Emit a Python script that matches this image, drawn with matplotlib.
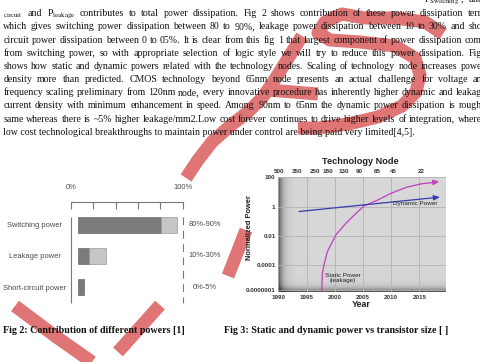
"""
    Page snippet: power dissipation text with
    Fig 2 (power contributions) and Fig 3 (static / dynamic power vs node).
"""
import numpy as np
import matplotlib.pyplot as plt

W, H = 481, 362
plt.rcParams["mathtext.fontset"] = "stix"

# ---- Fig 2 data (percent of the axis)
categories = ["Switching power", "Leakage power", "Short-circuit power"]
range_labels = ["80%-90%", "10%-30%", "0%-5%"]
bar_origin = 6.0
dark_end = [80.4, 16.4, 11.6]
light_end = [94.7, 31.3, None]
pct_ticks = [0, 20, 40, 60, 80, 100]
pct_labels = ["0%", "", "", "", "", "100%"]

# ---- Fig 3 data
years = [1990, 1995, 2000, 2005, 2010, 2015]
node_years = [1990.1, 1993.3, 1996.5, 1998.7, 2001.6, 2004.4, 2007.6, 2010.3, 2015.3]
node_labels = ["500", "350", "250", "180", "130", "90", "65", "45", "22"]
power_ticks = [100, 1, 0.01, 0.0001, 10**-5.7]
power_labels = ["100", "1", "0.01", "0.0001", "0.0000001"]
dyn_years = [1993.7, 2018.6]
dyn_power = [0.46, 4.4]
static_years = [1997.65, 1997.7, 1997.8, 1998.1, 1998.7, 2000.2, 2002.0, 2003.8,
                2005.2, 2007.4, 2010.0, 2012.7, 2015.3, 2018.5]
static_log = [-5.9, -5.7, -4.55, -3.97, -3.07, -1.93, -1.13, -0.45,
              0.05, 0.41, 0.91, 1.32, 1.55, 1.70]

# ---- body text (lines as they are cut by the page edge)
top_fragment = r"P$_{\mathrm{Switching}}$ ,  and"
body_lines = [
    [r"${}_{\mathrm{circuit}}$", "and", r"P$_{\mathrm{leakage}}$", "contributes", "to", "total", "power",
     "dissipation.", "Fig", "2", "shows", "contribution", "of", "these", "power", "dissipation", "terr"],
    "which gives switching power dissipation between 80 to 90%, leakage power dissipation between 10 to 30% and sho".split(),
    "circuit power dissipation between 0 to 05%. It is clear from this fig 1 that largest component of power dissipation com".split(),
    "from switching power, so with appropriate selection of logic style we will try to reduce this power dissipation. Fig".split(),
    "shows how static and dynamic powers related with the technology nodes. Scaling of technology node increases powe".split(),
    "density more than predicted. CMOS technology beyond 65nm node presents an actual challenge for voltage an".split(),
    "frequency scaling preliminary from 120nm node, every innovative procedure has inherently higher dynamic and leakag".split(),
    "current density with minimum enhancement in speed. Among 90nm to 65nm the dynamic power dissipation is rough".split(),
    "same whereas there is ~5% higher leakage/mm2.Low cost forever continues to drive higher levels of integration, where".split(),
]
last_line = "low cost technological breakthroughs to maintain power under control are being paid very limited[4,5]."

# red watermark strokes over the page (pixel coordinates)
watermark = [
    [(443, 34), (425, 22), (395, 18), (365, 18), (342, 14), (325, 22), (318, 33), (330, 40),
     (360, 42), (395, 46), (415, 58), (420, 75), (416, 92), (402, 106), (378, 117),
     (348, 124), (318, 128), (298, 128)],
    [(302, 36), (292, 52), (282, 68), (272, 84), (262, 98), (248, 112), (230, 126),
     (212, 142), (198, 160), (186, 178)],
    [(268, 90), (318, 94)],
    [(246, 230), (228, 276)],
    [(15, 306), (55, 336), (92, 362)],
    [(160, 305), (118, 352)],
]

serif = "Liberation Serif"
sans = "Liberation Sans"
body_size = 7.1
fig2_size = 5.4

fig = plt.figure(figsize=(W / 100, H / 100), dpi=100)
page = fig.add_axes([0, 0, 1, 1])
page.set_xlim(0, W)
page.set_ylim(H, 0)
page.axis("off")


def px_axes(x0, y0, x1, y1):
    return fig.add_axes([x0 / W, 1 - y1 / H, (x1 - x0) / W, (y1 - y0) / H])


for stroke in watermark:
    sx, sy = zip(*stroke)
    page.plot(sx, sy, color="#e07575", lw=9.4, solid_capstyle="butt",
              solid_joinstyle="round", zorder=0.5)

# justified body text
renderer = fig.canvas.get_renderer()
x_left, x_right = 3.3, 482
page.text(484, 2.5, top_fragment, fontsize=body_size, family=serif, color="#111111",
          ha="right", va="baseline")
for i, words in enumerate(body_lines):
    yb = 13.3 + 13.16 * i + 3
    arts = [page.text(x_left, yb, w, fontsize=body_size, family=serif,
                      color="#111111", va="baseline") for w in words]
    widths = [a.get_window_extent(renderer).width for a in arts]
    gap = (x_right - x_left - sum(widths)) / (len(words) - 1)
    x = x_left
    for a, w in zip(arts, widths):
        a.set_x(x)
        x += w + gap
page.text(x_left, 13.3 + 13.16 * len(body_lines) + 3, last_line, fontsize=body_size,
          family=serif, color="#111111", va="baseline")

# captions
page.text(3.3, 330.7, "Fig 2: Contribution of different powers [1]", fontsize=7.2,
          family=serif, weight="bold", va="center", color="#111111")
page.text(224, 330.7, "Fig 3: Static and dynamic power vs transistor size [ ]", fontsize=7.2,
          family=serif, weight="bold", va="center", color="#111111")

# ---------------- Fig 2 ----------------
gray_txt = "#4a4a4a"
ax = px_axes(71, 201.7, 182.7, 303.3)
ax.set_facecolor("none")
ypos = np.arange(len(categories))
ax.barh(ypos, np.array(dark_end) - bar_origin, left=bar_origin, height=0.51,
        color="#7b7b7b", edgecolor="#6a6a6a", lw=0.5)
lt = [i for i in ypos if light_end[i] is not None]
ax.barh(lt, [light_end[i] - dark_end[i] for i in lt], left=[dark_end[i] for i in lt],
        height=0.51, color="#c6c6c6", edgecolor="#9a9a9a", lw=0.5)
ax.set_xlim(0, 100)
ax.set_ylim(2.51, -0.73)
for s in ["left", "right", "bottom"]:
    ax.spines[s].set_visible(False)
ax.spines["top"].set_color("#777777")
ax.spines["top"].set_linewidth(0.8)
ax.xaxis.tick_top()
ax.set_xticks(pct_ticks, pct_labels, family=sans, fontsize=fig2_size, color=gray_txt)
ax.tick_params(axis="x", direction="in", length=5, width=0.8, color="#777777", pad=8)
ax.set_yticks(ypos, categories, family=sans, fontsize=fig2_size, color=gray_txt)
plt.setp(ax.get_yticklabels(), ha="center")
ax.tick_params(axis="y", length=0, pad=26)
ax.vlines(0, -0.25, 2.51, color="#777777", lw=0.8, clip_on=False)
ax.vlines(100, -0.25, 2.51, color="#777777", lw=0.8, linestyles=(0, (7, 5)), clip_on=False)
for y, lab in zip(ypos, range_labels):
    ax.text(119.5, y, lab, ha="center", va="center", family=sans, fontsize=fig2_size,
            color=gray_txt)

# ---------------- Fig 3 ----------------
box = (278.3, 176.7, 446, 292.3)
bg = px_axes(*box)
nx, ny = 168, 116
xx, yy = np.meshgrid(np.arange(nx), np.arange(ny)[::-1])
shade = 0.84 - 0.55 * np.exp(-xx / 4.0) - 0.5 * np.exp(-yy / 3.0)
shade = np.clip(shade, 0.18, 1)
bg.imshow(shade, cmap="gray", vmin=0, vmax=1, aspect="auto", extent=(0, 1, 0, 1))
bg.axis("off")

ax3 = px_axes(*box)
ax3.set_facecolor("none")
ax3.set_yscale("log")
ax3.set_xlim(1990, 2019.7)
ax3.set_ylim(10**-5.86, 10**2.04)
ax3.set_xticks(years, [str(v) for v in years])
ax3.set_yticks(power_ticks, power_labels)
ax3.yaxis.set_minor_locator(plt.NullLocator())
ax3.grid(True, color="#b3b3b3", lw=0.6)
ax3.set_axisbelow(True)
for s in ax3.spines.values():
    s.set_visible(False)
ax3.tick_params(length=0, labelsize=4.5, labelcolor="#333333", pad=2)
plt.setp(ax3.get_xticklabels() + ax3.get_yticklabels(), family=sans, weight="bold")
top = ax3.secondary_xaxis("top")
top.set_xticks(node_years, node_labels)
top.tick_params(length=0, labelsize=4.5, labelcolor="#333333", pad=2)
plt.setp(top.get_xticklabels(), family=sans, weight="bold")
for s in top.spines.values():
    s.set_visible(False)

dyn_c, stat_c = "#3838b0", "#c43cc4"
arrow = dict(arrowstyle="-|>,head_length=0.5,head_width=0.22", lw=0.9,
             shrinkA=0, shrinkB=0, mutation_scale=7)
ax3.annotate("", xy=(dyn_years[-1], dyn_power[-1]), xytext=(dyn_years[0], dyn_power[0]),
             arrowprops=dict(arrow, color=dyn_c))
static_power = 10 ** np.array(static_log)
ax3.plot(static_years[:-1], static_power[:-1], color=stat_c, lw=0.9)
ax3.annotate("", xy=(static_years[-1], static_power[-1]),
             xytext=(static_years[-2], static_power[-2]),
             arrowprops=dict(arrow, color=stat_c))
ax3.text(2014.3, 1.5, "Dynamic Power", fontsize=4.6, family=sans, ha="center",
         va="center", color="#222222")
ax3.text(2001.5, 1.3e-5, "Static Power\n(leakage)", fontsize=4.6, family=sans,
         ha="center", va="center", color="#222222", linespacing=0.9)

page.text(360, 161, "Technology Node", fontsize=6.6, family=sans, weight="bold",
          ha="center", va="center", color="#222222")
page.text(361.7, 304.3, "Year", fontsize=6.4, family=sans, weight="bold",
          ha="center", va="center", color="#222222")
page.text(250, 227.7, "Normalized Power", fontsize=5.4, family=sans, weight="bold",
          rotation=90, ha="center", va="center", color="#222222")

fig.savefig("out.png", dpi=100)
